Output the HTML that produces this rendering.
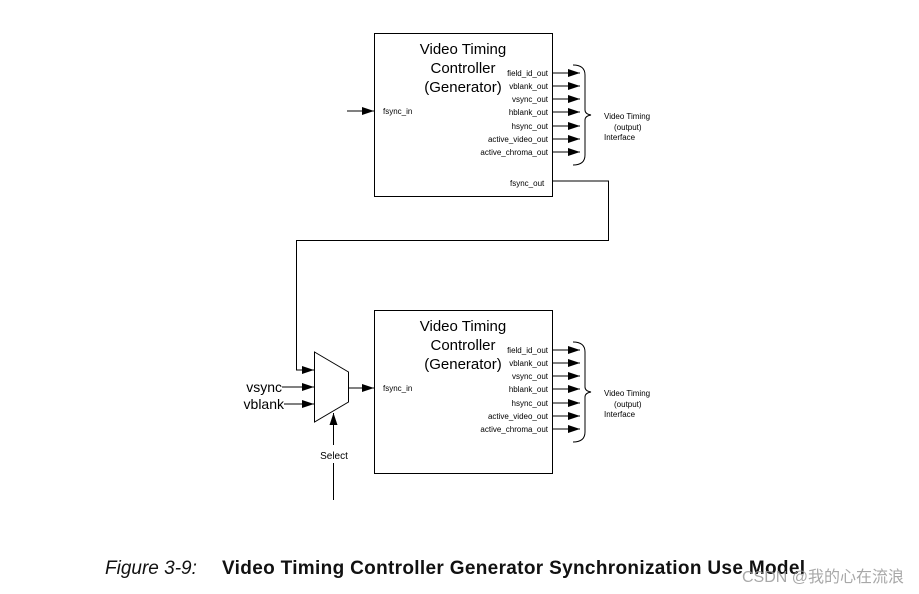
<!DOCTYPE html>
<html><head><meta charset="utf-8"><style>body{margin:0;background:#fff}svg{display:block}</style></head><body>
<svg width="919" height="594" viewBox="0 0 919 594" xmlns="http://www.w3.org/2000/svg" font-family="Liberation Sans, sans-serif">
<defs>
<marker id="a" markerWidth="12" markerHeight="8" refX="12" refY="4" orient="auto" markerUnits="userSpaceOnUse"><path d="M0,0 L12,4 L0,8 z" fill="#000"/></marker>
<g id="blk">
<rect x="374.5" y="33.5" width="178" height="163" fill="none" stroke="#000"/>
<text x="463" y="54" font-size="15" text-anchor="middle">Video Timing</text>
<text x="463" y="73" font-size="15" text-anchor="middle">Controller</text>
<text x="463" y="92" font-size="15" text-anchor="middle">(Generator)</text>
<text x="383" y="114" font-size="8">fsync_in</text>
<g font-size="8" text-anchor="end">
<text x="548" y="76">field_id_out</text>
<text x="548" y="89">vblank_out</text>
<text x="548" y="102">vsync_out</text>
<text x="548" y="115">hblank_out</text>
<text x="548" y="129">hsync_out</text>
<text x="548" y="142">active_video_out</text>
<text x="548" y="155">active_chroma_out</text>
</g>
<g stroke="#000" marker-end="url(#a)">
<line x1="552" y1="73" x2="580" y2="73"/>
<line x1="552" y1="86" x2="580" y2="86"/>
<line x1="552" y1="99" x2="580" y2="99"/>
<line x1="552" y1="112" x2="580" y2="112"/>
<line x1="552" y1="126" x2="580" y2="126"/>
<line x1="552" y1="139" x2="580" y2="139"/>
<line x1="552" y1="152" x2="580" y2="152"/>
</g>
<path d="M573,65 Q585,65 585,75 L585,110 Q585,114 591,115 Q585,116 585,120 L585,155 Q585,165 573,165" fill="none" stroke="#000"/>
<text x="604" y="119" font-size="8">Video Timing</text>
<text x="614" y="130" font-size="8">(output)</text>
<text x="604" y="140" font-size="8">Interface</text>
</g>
</defs>
<use href="#blk"/>
<use href="#blk" y="277"/>
<line x1="347" y1="111" x2="374" y2="111" stroke="#000" marker-end="url(#a)"/>
<text x="510" y="186" font-size="8">fsync_out</text>
<polyline points="552,181 608.5,181 608.5,240.5 296.5,240.5 296.5,370 314,370" fill="none" stroke="#000" marker-end="url(#a)"/>
<polygon points="314.5,352 348.5,372 348.5,402 314.5,422" fill="#fff" stroke="#000"/>
<line x1="282" y1="387" x2="314" y2="387" stroke="#000" marker-end="url(#a)"/>
<line x1="284" y1="404" x2="314" y2="404" stroke="#000" marker-end="url(#a)"/>
<text x="282" y="392" font-size="14" text-anchor="end">vsync</text>
<text x="284" y="409" font-size="14" text-anchor="end">vblank</text>
<line x1="348" y1="388" x2="374" y2="388" stroke="#000" marker-end="url(#a)"/>
<line x1="333.5" y1="500" x2="333.5" y2="463" stroke="#000"/>
<line x1="333.5" y1="445" x2="333.5" y2="413" stroke="#000" marker-end="url(#a)"/>
<text x="334" y="459" font-size="10" text-anchor="middle">Select</text>
<text x="105" y="574" font-size="19" font-style="italic" fill="#111">Figure 3-9:</text>
<text x="222" y="574" font-size="19" font-weight="bold" fill="#111" textLength="583">Video Timing Controller Generator Synchronization Use Model</text>
<text x="742" y="582" font-size="16" fill="#999" font-family="Liberation Sans, Noto Sans CJK SC, sans-serif" opacity="0.85">CSDN @我的心在流浪</text>
</svg>
</body></html>
